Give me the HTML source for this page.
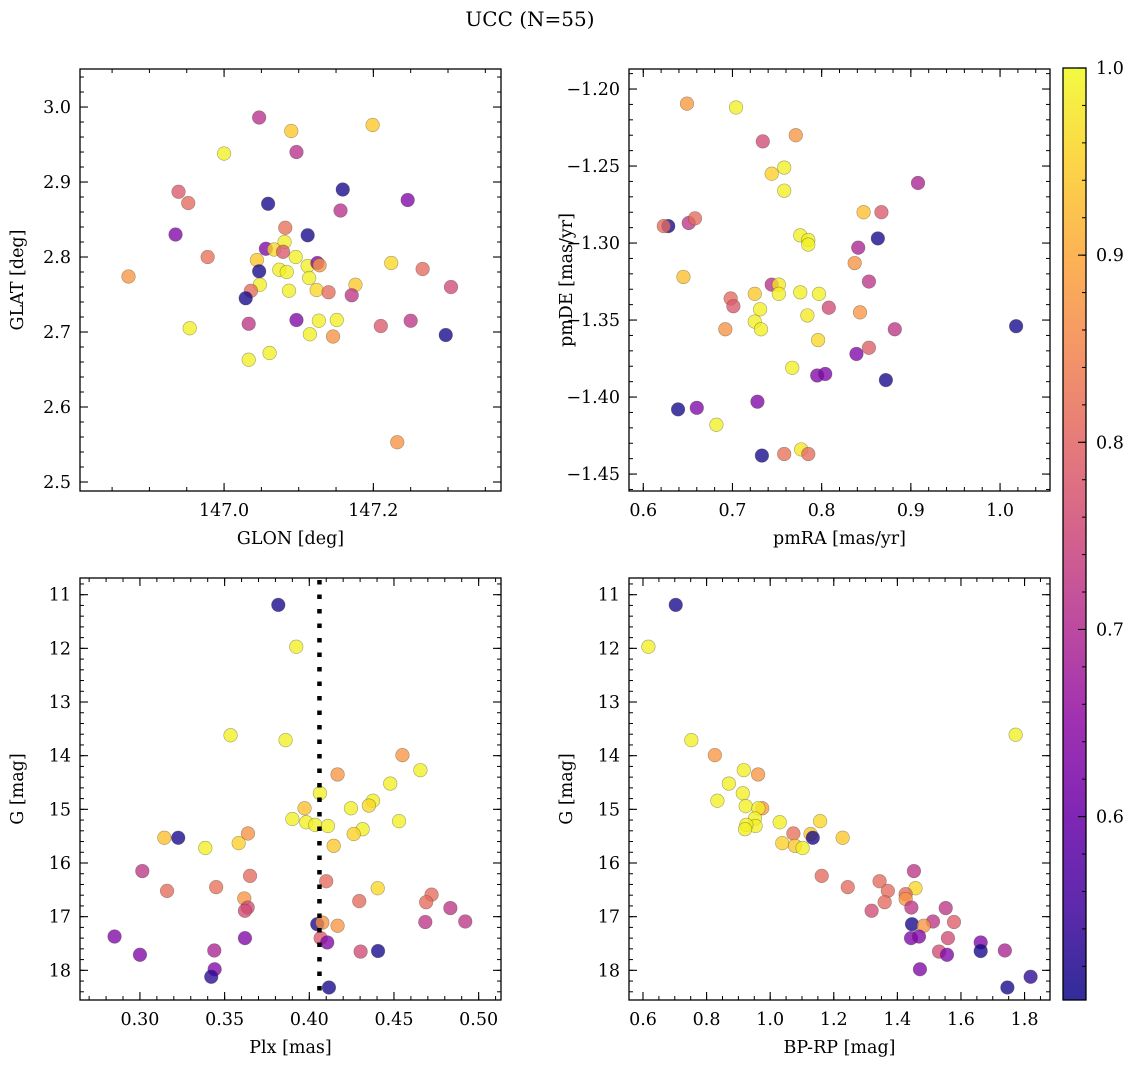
<!DOCTYPE html>
<html><head><meta charset="utf-8"><style>
html,body{margin:0;padding:0;background:#fff;}
svg{display:block;font-family:"DejaVu Serif","Liberation Serif",serif;}
</style></head><body>
<svg id="fig" width="1136" height="1068" viewBox="0 0 1136 1068" xmlns="http://www.w3.org/2000/svg">
<text x="530" y="26" font-size="20" text-anchor="middle">UCC (N=55)</text>
</svg>
<script>
// ---- Panel 1 data: GLON / GLAT / membership probability ----
const p1Lon = [147.047,147.090,147.199,147.000,147.097,147.159,147.246,146.939,146.952,147.059,147.156,146.935,147.082,147.112,147.081,147.056,147.067,147.079,146.978,147.096,147.044,146.872,147.047,147.074,147.084,147.112,147.125,147.128,147.224,147.266,147.114,147.048,147.124,147.176,147.036,147.029,147.087,147.140,147.171,147.304,146.954,147.033,147.097,147.127,147.151,147.210,147.250,147.297,147.115,147.146,147.061,147.033,147.232];
const p1Lat = [2.986,2.968,2.976,2.938,2.940,2.890,2.876,2.887,2.872,2.871,2.862,2.830,2.839,2.829,2.820,2.811,2.810,2.807,2.800,2.800,2.796,2.774,2.781,2.783,2.780,2.788,2.792,2.789,2.792,2.784,2.772,2.763,2.756,2.763,2.755,2.745,2.755,2.753,2.749,2.760,2.705,2.711,2.716,2.715,2.716,2.708,2.715,2.696,2.697,2.694,2.672,2.663,2.553];
const p1Prob = [0.71,0.94,0.94,0.99,0.71,0.51,0.63,0.78,0.81,0.51,0.71,0.63,0.82,0.51,0.99,0.63,0.96,0.78,0.82,0.99,0.94,0.875,0.51,0.99,0.99,0.99,0.63,0.875,0.96,0.81,0.99,0.99,0.96,0.94,0.81,0.51,0.99,0.81,0.72,0.76,0.99,0.72,0.63,0.99,0.99,0.78,0.72,0.51,0.99,0.87,0.99,0.99,0.87];
// ---- Panel 2 data: pmRA / pmDE ----
const p2RA = [0.649,0.704,0.734,0.771,0.744,0.758,0.758,0.908,0.847,0.867,0.628,0.623,0.651,0.658,0.776,0.785,0.785,0.863,0.841,0.837,0.645,0.853,0.744,0.752,0.752,0.725,0.776,0.797,0.698,0.701,0.731,0.808,0.784,0.843,0.725,0.732,0.692,1.018,0.882,0.796,0.853,0.839,0.767,0.795,0.804,0.872,0.639,0.660,0.728,0.682,0.733,0.758,0.777,0.785];
const p2DE = [-1.2095,-1.212,-1.234,-1.230,-1.255,-1.251,-1.266,-1.261,-1.280,-1.280,-1.289,-1.289,-1.287,-1.284,-1.295,-1.298,-1.301,-1.297,-1.303,-1.313,-1.322,-1.325,-1.327,-1.327,-1.333,-1.333,-1.332,-1.333,-1.336,-1.341,-1.343,-1.342,-1.347,-1.345,-1.351,-1.356,-1.356,-1.354,-1.356,-1.363,-1.368,-1.372,-1.381,-1.386,-1.385,-1.389,-1.408,-1.407,-1.403,-1.418,-1.438,-1.437,-1.434,-1.437];
const p2Prob = [0.88,0.99,0.76,0.875,0.95,0.99,0.99,0.69,0.93,0.78,0.51,0.81,0.72,0.81,0.99,0.99,0.99,0.51,0.69,0.87,0.93,0.72,0.71,0.98,0.99,0.94,0.99,0.99,0.81,0.78,0.99,0.76,0.98,0.875,0.99,0.99,0.87,0.51,0.72,0.96,0.79,0.63,0.99,0.63,0.63,0.51,0.51,0.63,0.63,0.99,0.51,0.82,0.98,0.81];
// ---- Panel 3 data: Plx / G ----
const p3Plx = [0.3817,0.3923,0.3535,0.386,0.455,0.4656,0.4167,0.4478,0.4063,0.4376,0.4352,0.3972,0.4246,0.390,0.3982,0.4035,0.411,0.453,0.4315,0.4262,0.3638,0.3144,0.3226,0.3583,0.3386,0.4144,0.3014,0.365,0.410,0.316,0.345,0.4404,0.3616,0.4295,0.4722,0.469,0.3636,0.362,0.4833,0.4685,0.4921,0.4047,0.4077,0.4167,0.285,0.362,0.4067,0.4106,0.3439,0.4303,0.4406,0.300,0.3441,0.3421,0.4116];
const p3G = [11.19,11.97,13.62,13.71,13.99,14.27,14.35,14.52,14.70,14.84,14.93,14.98,14.98,15.18,15.24,15.29,15.31,15.22,15.37,15.46,15.45,15.53,15.53,15.63,15.72,15.68,16.15,16.24,16.34,16.52,16.45,16.47,16.66,16.71,16.59,16.73,16.83,16.89,16.84,17.10,17.09,17.14,17.11,17.17,17.37,17.40,17.40,17.48,17.63,17.65,17.64,17.71,17.98,18.12,18.32];
const p3Prob = [0.51,0.99,0.99,0.99,0.875,0.99,0.875,0.99,0.99,0.99,0.96,0.93,0.99,0.99,0.99,0.99,0.99,0.99,0.99,0.95,0.87,0.93,0.51,0.95,0.99,0.94,0.72,0.81,0.81,0.81,0.82,0.96,0.875,0.81,0.81,0.81,0.76,0.76,0.72,0.72,0.72,0.51,0.87,0.875,0.63,0.63,0.78,0.63,0.69,0.76,0.51,0.63,0.63,0.53,0.51];
const plxLine = 0.406;
// ---- Panel 4 data: BP-RP / G ----
const p4Col = [0.703,0.617,1.772,0.752,0.826,0.917,0.962,0.870,0.914,0.834,0.923,0.975,0.963,1.030,1.157,0.952,0.954,0.925,0.921,1.073,1.127,1.134,1.228,1.038,1.078,1.102,1.162,1.244,1.344,1.370,1.452,1.457,1.426,1.426,1.360,1.444,1.319,1.552,1.446,1.512,1.578,1.483,1.443,1.468,1.559,1.662,1.662,1.738,1.531,1.556,1.471,1.819,1.746];
const p4G = [11.19,11.97,13.61,13.71,13.99,14.27,14.35,14.52,14.70,14.84,14.94,14.98,14.98,15.24,15.22,15.17,15.31,15.29,15.37,15.45,15.46,15.53,15.53,15.63,15.68,15.72,16.24,16.45,16.34,16.52,16.15,16.47,16.58,16.67,16.73,16.83,16.89,16.84,17.14,17.09,17.10,17.17,17.40,17.37,17.40,17.48,17.64,17.63,17.65,17.71,17.98,18.12,18.32];
const p4Prob = [0.51,0.99,0.99,0.99,0.875,0.99,0.875,0.99,0.99,0.99,0.99,0.88,0.99,0.99,0.96,0.99,0.99,0.99,0.99,0.82,0.94,0.51,0.94,0.95,0.94,0.99,0.81,0.81,0.81,0.81,0.72,0.96,0.81,0.875,0.81,0.72,0.76,0.72,0.51,0.72,0.79,0.875,0.63,0.63,0.76,0.63,0.51,0.69,0.76,0.63,0.63,0.53,0.51];
// ---- Colorbar ----
const cbMin = 0.502, cbMax = 1.0;
const cbTicks = [0.6,0.7,0.8,0.9,1.0];

const NS = "http://www.w3.org/2000/svg";
const svg = document.getElementById('fig');
function mk(tag, attrs, parent){const e=document.createElementNS(NS,tag);for(const k in attrs)e.setAttribute(k,attrs[k]);(parent||svg).appendChild(e);return e;}
const plasma = [[13,8,135],[65,4,157],[106,0,168],[143,13,164],[177,42,144],[204,71,120],[225,100,98],[242,132,75],[252,166,54],[252,206,37],[240,249,33]];
function cmap(v){let t=(v-cbMin)/(cbMax-cbMin);t=Math.max(0,Math.min(1,t));const s=t*10,i=Math.min(9,Math.floor(s)),f=s-i;const a=plasma[i],b=plasma[i+1];return 'rgb('+[0,1,2].map(k=>Math.round(a[k]+(b[k]-a[k])*f)).join(',')+')';}
function fmt(v,d){return v.toFixed(d).replace('-','\u2212');}

function panel(cfg){
  const {x0,y0,w,h,xmin,xmax,ymin,ymax,invertY}=cfg;
  const g=mk('g',{});
  
  
  const sx=v=>x0+(v-xmin)/(xmax-xmin)*w;
  const sy=invertY? v=>y0+(v-ymin)/(ymax-ymin)*h : v=>y0+h-(v-ymin)/(ymax-ymin)*h;
  const eps=1e-9;
  function ticks(lo,hi,step){const r=[];let s=Math.ceil((lo-eps)/step);for(let v=s*step;v<=hi+eps;v=(++s)*step)r.push(+v.toFixed(6));return r;}
  const lx=Math.min(xmin,xmax),hx=Math.max(xmin,xmax),ly=Math.min(ymin,ymax),hy=Math.max(ymin,ymax);
  ticks(lx,hx,cfg.xminor).forEach(v=>{const X=sx(v);mk('line',{x1:X,x2:X,y1:y0+h,y2:y0+h-4,stroke:'#000','stroke-width':1},g);mk('line',{x1:X,x2:X,y1:y0,y2:y0+4,stroke:'#000','stroke-width':1},g);});
  ticks(ly,hy,cfg.yminor).forEach(v=>{const Y=sy(v);mk('line',{x1:x0,x2:x0+4,y1:Y,y2:Y,stroke:'#000','stroke-width':1},g);mk('line',{x1:x0+w,x2:x0+w-4,y1:Y,y2:Y,stroke:'#000','stroke-width':1},g);});
  ticks(lx,hx,cfg.xmajor).forEach(v=>{const X=sx(v);mk('line',{x1:X,x2:X,y1:y0+h,y2:y0+h-8,stroke:'#000','stroke-width':1.1},g);mk('line',{x1:X,x2:X,y1:y0,y2:y0+8,stroke:'#000','stroke-width':1.1},g);
    const t=mk('text',{x:X,y:y0+h+25,'font-size':17.5,'text-anchor':'middle'},g);t.textContent=fmt(v,cfg.xdec);
    
    });
  ticks(ly,hy,cfg.ymajor).forEach(v=>{const Y=sy(v);mk('line',{x1:x0,x2:x0+8,y1:Y,y2:Y,stroke:'#000','stroke-width':1.1},g);mk('line',{x1:x0+w,x2:x0+w-8,y1:Y,y2:Y,stroke:'#000','stroke-width':1.1},g);
    const t=mk('text',{x:x0-9,y:Y+6,'font-size':17.5,'text-anchor':'end'},g);t.textContent=fmt(v,cfg.ydec);
    
    });
  for(let i=0;i<cfg.xs.length;i++){
    const c=mk('circle',{cx:sx(cfg.xs[i]),cy:sy(cfg.ys[i]),r:6.8,fill:cmap(cfg.ps[i]),'fill-opacity':0.78,stroke:'rgba(60,60,40,0.45)','stroke-width':0.6},g);
    
    
  }
  if(cfg.vline!==undefined){const X=sx(cfg.vline);const l=mk('line',{x1:X,x2:X,y1:y0+2,y2:y0+h,stroke:'#000','stroke-width':4.5,'stroke-dasharray':'4.5 10'},g);
    
    }
  mk('rect',{x:x0,y:y0,width:w,height:h,fill:'none',stroke:'#000','stroke-width':1.3},g);
  const xl=mk('text',{x:x0+w/2,y:y0+h+53,'font-size':17.5,'text-anchor':'middle'},g);xl.textContent=cfg.xlabel;
  
  
  const yx=x0-57, yy=y0+h/2;
  const yl=mk('text',{x:yx,y:yy,'font-size':17.5,'text-anchor':'middle',transform:'rotate(-90 '+yx+' '+yy+')'},g);yl.textContent=cfg.ylabel;
  
  
}

panel({name:'glon-glat-panel',x0:80,y0:69,w:421,h:422,xmin:146.807,xmax:147.371,ymin:2.488,ymax:3.0507,xmajor:0.2,xminor:0.05,ymajor:0.1,yminor:0.02,xdec:1,ydec:1,xs:p1Lon,ys:p1Lat,ps:p1Prob,xlabel:'GLON [deg]',ylabel:'GLAT [deg]'});
panel({name:'proper-motion-panel',x0:629,y0:69,w:421,h:422,xmin:0.584,xmax:1.056,ymin:-1.461,ymax:-1.187,xmajor:0.1,xminor:0.02,ymajor:0.05,yminor:0.01,xdec:1,ydec:2,xs:p2RA,ys:p2DE,ps:p2Prob,xlabel:'pmRA [mas/yr]',ylabel:'pmDE [mas/yr]'});
panel({name:'parallax-mag-panel',x0:80,y0:578,w:421,h:422,xmin:0.2646,xmax:0.5132,ymin:10.689,ymax:18.553,invertY:true,xmajor:0.05,xminor:0.01,ymajor:1,yminor:0.2,xdec:2,ydec:0,xs:p3Plx,ys:p3G,ps:p3Prob,vline:plxLine,xlabel:'Plx [mas]',ylabel:'G [mag]'});
panel({name:'cmd-panel',x0:629,y0:578,w:421,h:422,xmin:0.556,xmax:1.880,ymin:10.689,ymax:18.553,invertY:true,xmajor:0.2,xminor:0.05,ymajor:1,yminor:0.2,xdec:1,ydec:0,xs:p4Col,ys:p4G,ps:p4Prob,xlabel:'BP-RP [mag]',ylabel:'G [mag]'});

(function(){
  const x0=1063,y0=68,w=23,h=932;
  const defs=mk('defs',{});
  const lg=mk('linearGradient',{id:'cbg',x1:0,y1:1,x2:0,y2:0},defs);
  for(let i=0;i<=20;i++){const v=cbMin+(cbMax-cbMin)*i/20;mk('stop',{offset:(i/20),'stop-color':cmap(v)},lg);}
  const g=mk('g',{});
  
  
  mk('rect',{x:x0,y:y0,width:w,height:h,fill:'url(#cbg)','fill-opacity':0.85},g);
  const sy=v=>y0+h-(v-cbMin)/(cbMax-cbMin)*h;
  for(let v=0.52;v<0.9999;v+=0.02){const Y=sy(v);mk('line',{x1:x0+w,x2:x0+w-4,y1:Y,y2:Y,stroke:'#000','stroke-width':1},g);}
  cbTicks.forEach(v=>{const Y=sy(v);mk('line',{x1:x0+w,x2:x0+w-8,y1:Y,y2:Y,stroke:'#000','stroke-width':1.1},g);
    const t=mk('text',{x:x0+w+10,y:Y+6,'font-size':17.5},g);t.textContent=v.toFixed(1);
    
    });
  mk('rect',{x:x0,y:y0,width:w,height:h,fill:'none',stroke:'#000','stroke-width':1.3},g);
})();
</script>
</body></html>
